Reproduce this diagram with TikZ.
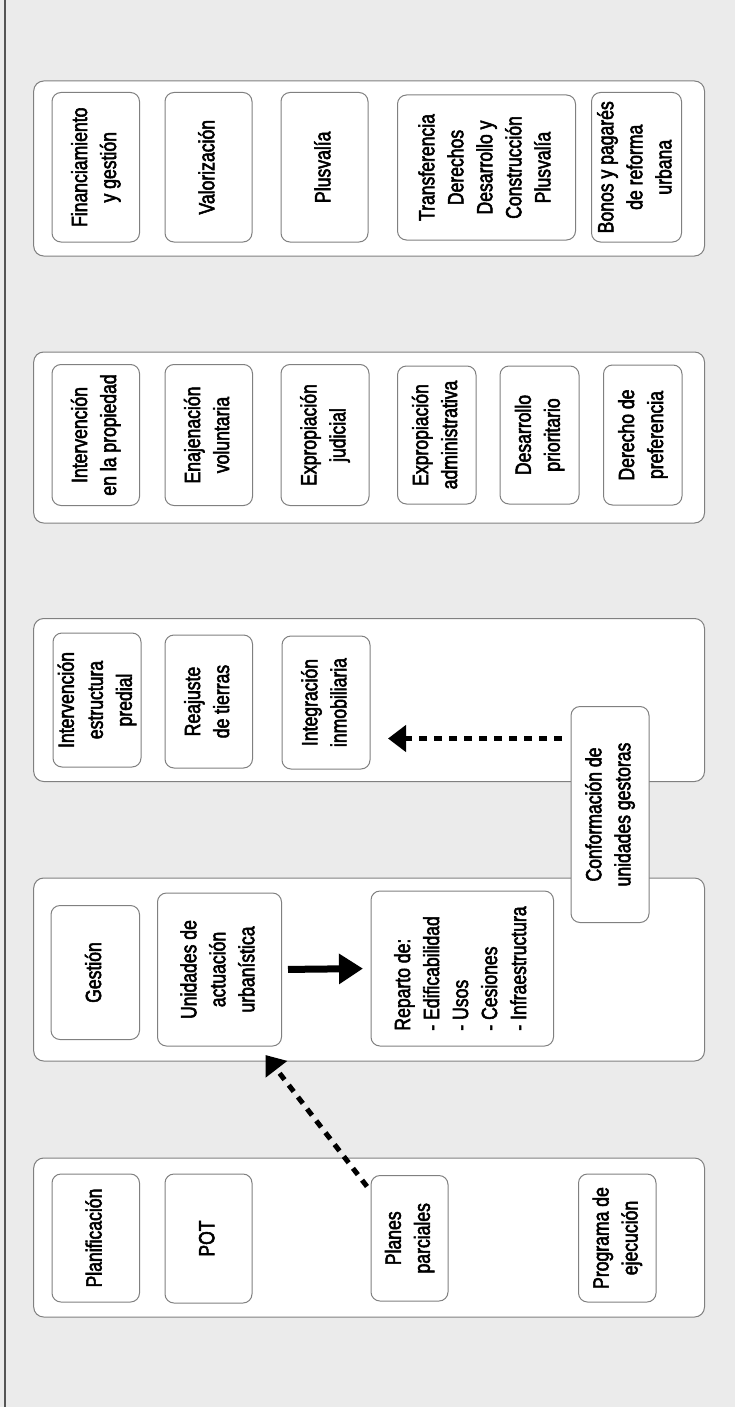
\documentclass[tikz,border=0pt]{standalone}
\usepackage{fontspec}
\usepackage{graphicx}
\setmainfont{Liberation Sans}[FakeStretch=0.8,FakeBold=2.5]
\usetikzlibrary{arrows.meta}
\definecolor{bg}{HTML}{EBEBEB}
\definecolor{edge}{HTML}{808080}
\definecolor{leftline}{HTML}{555555}
\newcommand\bx[7][c]{%
  \node[ibox, minimum width={#5-#3}, minimum height={#6-#4}] (#2) at ({(#3+#5)/2},{(#4+#6)/2})
    {\rotatebox{90}{\begin{tabular}{@{}#1@{}}#7\end{tabular}}};}
\newcommand\grp[5]{%
  \node[obox, minimum width={#4-#2}, minimum height={#5-#3}] (#1) at ({(#2+#4)/2},{(#3+#5)/2}) {};}
\begin{document}
\begin{tikzpicture}[x=1pt,y=-1pt,
  ibox/.style={draw=edge, line width=1pt, fill=white, rounded corners=9pt, inner sep=0pt, outer sep=0pt,
    font=\fontsize{22}{29}\selectfont},
  obox/.style={draw=edge, line width=1pt, fill=white, rounded corners=10pt, inner sep=0pt, outer sep=0pt},
  solidarrow/.style={line width=7pt, -{Triangle[length=24pt,width=29pt]}},
  dasharrow/.style={line width=5pt, dash pattern=on 8pt off 7pt, -{Triangle[length=18pt,width=26pt]}}
]
\fill[bg] (0,0) rectangle (735,1407);
\useasboundingbox (0,0) rectangle (735,1407);
\draw[leftline, line width=2pt] (5,0) -- (5,1407);

% groups
\grp{g1}{33.7}{81}{704.5}{256}
\grp{g2}{33.7}{352}{704.5}{523}
\grp{g3}{33.7}{618.5}{704.5}{781.5}
\grp{g4}{33.7}{878}{704.5}{1061}
\grp{g5}{33.7}{1158}{704.5}{1317}

% group 1
\bx{fin}{52}{92.5}{139.5}{242}{Financiamiento\\y gestión}
\bx{val}{165}{92.5}{252}{242}{Valorización}
\bx{plu}{281}{92.5}{368}{242}{Plusvalía}
\bx{tra}{397.5}{95}{575.5}{240}{Transferencia\\Derechos\\Desarrollo y\\Construcción\\Plusvalía}
\bx{bon}{591.5}{92.5}{681.5}{242}{Bonos y pagarés\\de reforma\\urbana}

% group 2
\bx{ipr}{52}{364.5}{139.5}{505.5}{Intervención\\en la propiedad}
\bx{ena}{165}{364.5}{252.5}{505.5}{Enajenación\\voluntaria}
\bx{exj}{281}{364.5}{369}{505.5}{Expropiación\\judicial}
\bx{exa}{397.5}{366}{476}{504}{Expropiación\\administrativa}
\bx{dpr}{500}{366}{579}{504}{Desarrollo\\prioritario}
\bx{dpf}{603.5}{365}{682}{505}{Derecho de\\preferencia}

% group 3
\bx{iep}{53}{633}{141}{767}{Intervención\\estructura\\predial}
\bx{rea}{165}{635}{252.5}{768}{Reajuste\\de tierras}
\bx{inm}{282}{636}{370}{769}{Integración\\inmobiliaria}

% group 4
\bx{ges}{51}{905.5}{139.5}{1039.5}{Gestión}
\bx{uni}{157.5}{893}{281.5}{1046}{Unidades de\\actuación\\urbanística}
\bx[l]{rep}{371}{891}{553.5}{1046}{Reparto de:\\- Edificabilidad\\- Usos\\- Cesiones\\- Infraestructura}

% group 5
\bx{pla}{52}{1174}{139.5}{1302}{Planificación}
\bx{pot}{165}{1174}{252}{1303}{POT}
\bx{ppa}{371}{1175.5}{448}{1301}{Planes\\parciales}
\bx{pej}{578.5}{1174}{656}{1302}{Programa de\\ejecución}

% overlapping box
\bx{con}{571}{706.5}{649}{922.5}{Conformación de\\unidades gestoras}

% connectors
\draw[solidarrow, shorten <=6.5pt, shorten >=8pt] (uni.east) -- (rep.west);
\path (con.west) ++(0,-76) coordinate (c1);
\draw[dasharrow, shorten <=9pt, shorten >=18pt] (c1) -- (c1 -| inm.east);
\coordinate (p1) at ([xshift=-4pt,yshift=-11pt]ppa.north west);
\coordinate (p2) at ([xshift=-16pt,yshift=-9pt]uni.south east);
\draw[dasharrow] (p1) -- (p2);
\end{tikzpicture}
\end{document}
